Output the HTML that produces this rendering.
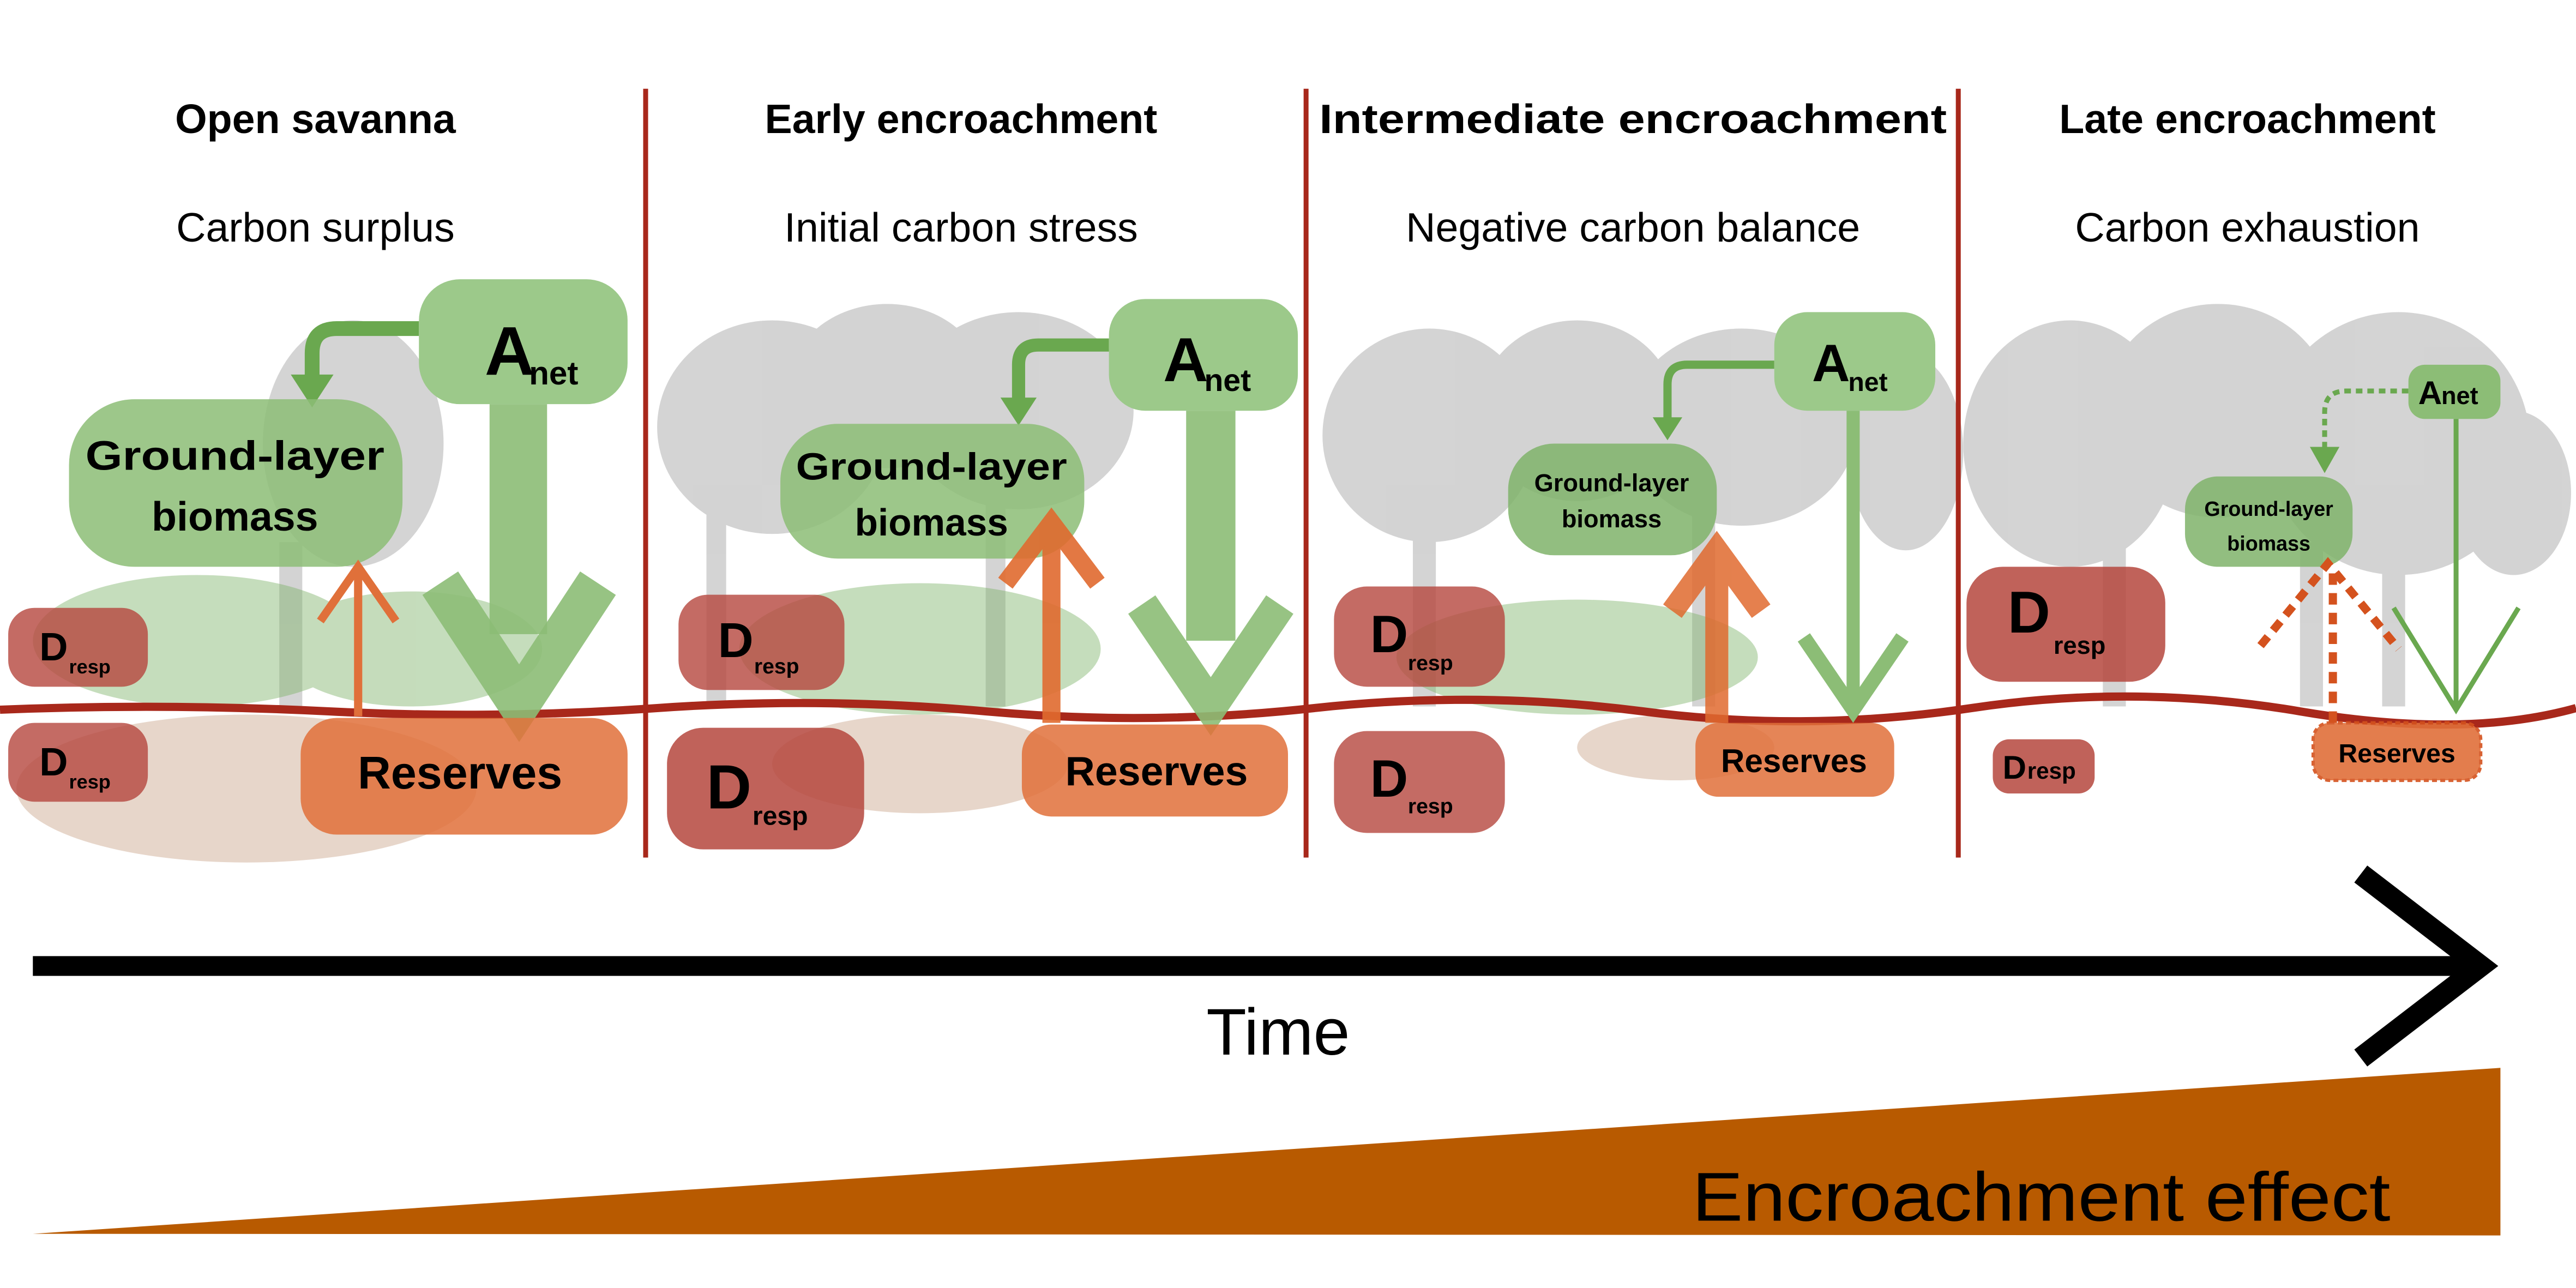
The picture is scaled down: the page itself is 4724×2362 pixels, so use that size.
<!DOCTYPE html>
<html><head><meta charset="utf-8"><style>
html,body{margin:0;padding:0;background:#fff;}
svg{display:block;}
text{font-family:"Liberation Sans",sans-serif;}
</style></head><body>
<svg width="4724" height="2362" viewBox="0 0 1568 784" preserveAspectRatio="none" xmlns="http://www.w3.org/2000/svg">
<rect width="1568" height="784" fill="#fff"/>
<!-- trees -->
<g fill="#bdbdbd" opacity="0.65">
  <ellipse cx="215" cy="270" rx="55" ry="75"/><rect x="170" y="330" width="14" height="100"/>
  <ellipse cx="470" cy="260" rx="70" ry="65"/><ellipse cx="620" cy="250" rx="70" ry="60"/><ellipse cx="540" cy="235" rx="60" ry="50"/>
  <rect x="430" y="300" width="12" height="130"/><rect x="600" y="300" width="12" height="130"/>
  <ellipse cx="870" cy="265" rx="65" ry="65"/><ellipse cx="960" cy="250" rx="60" ry="55"/><ellipse cx="1060" cy="260" rx="70" ry="60"/><ellipse cx="1160" cy="275" rx="35" ry="60"/>
  <rect x="860" y="300" width="14" height="130"/><rect x="1030" y="300" width="14" height="130"/>
  <ellipse cx="1260" cy="270" rx="65" ry="75"/><ellipse cx="1350" cy="250" rx="70" ry="65"/><ellipse cx="1460" cy="270" rx="80" ry="80"/><ellipse cx="1530" cy="300" rx="35" ry="50"/>
  <rect x="1280" y="330" width="14" height="100"/><rect x="1400" y="330" width="14" height="100"/><rect x="1450" y="330" width="14" height="100"/>
</g>
<!-- grass -->
<g fill="#7fb36a" opacity="0.45">
  <ellipse cx="120" cy="390" rx="100" ry="40"/><ellipse cx="250" cy="395" rx="80" ry="35"/>
  <ellipse cx="560" cy="395" rx="110" ry="40"/>
  <ellipse cx="960" cy="400" rx="110" ry="35"/>
</g>
<!-- roots -->
<g fill="#c9a48a" opacity="0.45">
  <ellipse cx="150" cy="480" rx="140" ry="45"/><ellipse cx="560" cy="465" rx="90" ry="30"/><ellipse cx="1020" cy="455" rx="60" ry="20"/>
</g>
<!-- dividers -->
<g stroke="#a8281b" stroke-width="3">
<line x1="393" y1="54" x2="393" y2="522"/><line x1="795" y1="54" x2="795" y2="522"/><line x1="1192" y1="54" x2="1192" y2="522"/>
</g>
<!-- ground -->
<path d="M0 432 Q100 428 200 433 T400 431 T600 433 T800 431 T1000 433 T1200 431 T1400 433 T1568 431" stroke="#a8281b" stroke-width="5" fill="none"/>
<!-- titles -->
<g font-weight="bold" font-size="25" text-anchor="middle" fill="#000">
<text x="192" y="81">Open savanna</text>
<text x="585" y="81">Early encroachment</text>
<text x="994" y="81" textLength="382" lengthAdjust="spacingAndGlyphs">Intermediate encroachment</text>
<text x="1368" y="81">Late encroachment</text>
</g>
<g font-size="25" text-anchor="middle" fill="#000">
<text x="192" y="147">Carbon surplus</text>
<text x="585" y="147">Initial carbon stress</text>
<text x="994" y="147">Negative carbon balance</text>
<text x="1368" y="147">Carbon exhaustion</text>
</g>
<!-- PANEL 1 -->
<path d="M255 200 H205 Q190 200 190 215 V235" stroke="#6aa84f" stroke-width="9" fill="none"/>
<polygon points="177,228 203,228 190,248" fill="#6aa84f"/>
<rect x="42" y="243" width="203" height="102" rx="40" fill="#8cbd76" opacity="0.85"/>
<text x="143" y="286" font-size="25" font-weight="bold" text-anchor="middle" textLength="182" lengthAdjust="spacingAndGlyphs">Ground-layer</text>
<text x="143" y="323" font-size="25" font-weight="bold" text-anchor="middle">biomass</text>
<rect x="255" y="170" width="127" height="76" rx="25" fill="#9cc98a"/>
<text x="295" y="228" font-size="42" font-weight="bold">A</text><text x="322" y="234" font-size="20" font-weight="bold">net</text>
<rect x="298" y="246" width="35" height="140" fill="#8cbd76" opacity="0.9"/>
<polyline points="268,355 316,428 364,355" stroke="#8cbd76" stroke-width="26" fill="none" opacity="0.9"/>
<rect x="5" y="370" width="85" height="48" rx="16" fill="#b5463d" opacity="0.8"/>
<rect x="5" y="440" width="85" height="48" rx="16" fill="#b5463d" opacity="0.8"/>
<text x="24" y="402" font-size="24" font-weight="bold">D</text><text x="42" y="410" font-size="12" font-weight="bold">resp</text>
<text x="24" y="472" font-size="24" font-weight="bold">D</text><text x="42" y="480" font-size="12" font-weight="bold">resp</text>
<rect x="183" y="437" width="199" height="71" rx="22" fill="#e0703a" opacity="0.85"/>
<text x="280" y="480" font-size="28" font-weight="bold" text-anchor="middle">Reserves</text>
<g stroke="#e0703a" stroke-width="5" fill="none"><line x1="218" y1="436" x2="218" y2="346"/><polyline points="195,378 218,345 241,378"/></g>
<!-- PANEL 2 -->
<path d="M675 210 H632 Q620 210 620 222 V245" stroke="#6aa84f" stroke-width="8" fill="none"/>
<polygon points="609,242 631,242 620,259" fill="#6aa84f"/>
<rect x="475" y="258" width="185" height="82" rx="35" fill="#8cbd76" opacity="0.85"/>
<text x="567" y="292" font-size="23" font-weight="bold" text-anchor="middle" textLength="165" lengthAdjust="spacingAndGlyphs">Ground-layer</text>
<text x="567" y="326" font-size="23" font-weight="bold" text-anchor="middle">biomass</text>
<rect x="675" y="182" width="115" height="68" rx="22" fill="#9cc98a"/>
<text x="708" y="232" font-size="38" font-weight="bold">A</text><text x="733" y="238" font-size="19" font-weight="bold">net</text>
<rect x="722" y="250" width="30" height="140" fill="#8cbd76" opacity="0.9"/>
<polyline points="695,368 737,430 779,368" stroke="#8cbd76" stroke-width="20" fill="none" opacity="0.9"/>
<rect x="413" y="362" width="101" height="58" rx="18" fill="#b5463d" opacity="0.8"/>
<text x="437" y="400" font-size="30" font-weight="bold">D</text><text x="459" y="410" font-size="13" font-weight="bold">resp</text>
<rect x="406" y="443" width="120" height="74" rx="22" fill="#b5463d" opacity="0.85"/>
<text x="430" y="492" font-size="38" font-weight="bold">D</text><text x="458" y="502" font-size="16" font-weight="bold">resp</text>
<rect x="622" y="441" width="162" height="56" rx="18" fill="#e0703a" opacity="0.85"/>
<text x="704" y="478" font-size="25" font-weight="bold" text-anchor="middle">Reserves</text>
<g stroke="#e06a2f" stroke-width="11" fill="none" opacity="0.9"><line x1="640" y1="440" x2="640" y2="318"/><polyline points="612,355 640,318 668,355"/></g>
<!-- PANEL 3 -->
<path d="M1080 222 H1027 Q1015 222 1015 234 V258" stroke="#6aa84f" stroke-width="5" fill="none"/>
<polygon points="1006,254 1024,254 1015,268" fill="#6aa84f"/>
<rect x="918" y="270" width="127" height="68" rx="28" fill="#7fb36a" opacity="0.85"/>
<text x="981" y="299" font-size="15" font-weight="bold" text-anchor="middle">Ground-layer</text>
<text x="981" y="321" font-size="15" font-weight="bold" text-anchor="middle">biomass</text>
<rect x="1080" y="190" width="98" height="60" rx="20" fill="#9cc98a"/>
<text x="1103" y="232" font-size="32" font-weight="bold">A</text><text x="1125" y="238" font-size="16" font-weight="bold">net</text>
<line x1="1128" y1="250" x2="1128" y2="432" stroke="#8cbd76" stroke-width="8"/>
<polyline points="1098,388 1128,432 1158,388" stroke="#8cbd76" stroke-width="9" fill="none"/>
<rect x="812" y="357" width="104" height="61" rx="20" fill="#b5463d" opacity="0.8"/>
<text x="834" y="397" font-size="32" font-weight="bold">D</text><text x="857" y="408" font-size="13" font-weight="bold">resp</text>
<rect x="812" y="445" width="104" height="62" rx="20" fill="#b5463d" opacity="0.8"/>
<text x="834" y="485" font-size="32" font-weight="bold">D</text><text x="857" y="495" font-size="13" font-weight="bold">resp</text>
<rect x="1032" y="440" width="121" height="45" rx="14" fill="#e0703a" opacity="0.85"/>
<text x="1092" y="470" font-size="20" font-weight="bold" text-anchor="middle">Reserves</text>
<g stroke="#e06a2f" stroke-width="14" fill="none" opacity="0.85"><line x1="1045" y1="440" x2="1045" y2="335"/><polyline points="1018,372 1045,335 1072,372"/></g>
<!-- PANEL 4 -->
<path d="M1466 238 H1428 Q1415 238 1415 251 V272" stroke="#6aa84f" stroke-width="3" stroke-dasharray="4,3" fill="none"/>
<polygon points="1406,272 1424,272 1415,288" fill="#6aa84f"/>
<rect x="1330" y="290" width="102" height="55" rx="20" fill="#7fb36a" opacity="0.85"/>
<text x="1381" y="314" font-size="12.5" font-weight="bold" text-anchor="middle">Ground-layer</text>
<text x="1381" y="335" font-size="12.5" font-weight="bold" text-anchor="middle">biomass</text>
<rect x="1466" y="222" width="56" height="33" rx="10" fill="#8cbd76"/>
<text x="1472" y="246" font-size="20" font-weight="bold">A</text><text x="1486" y="246" font-size="15" font-weight="bold">net</text>
<line x1="1495" y1="255" x2="1495" y2="432" stroke="#6aa84f" stroke-width="3"/>
<polyline points="1457,370 1495,432 1533,370" stroke="#6aa84f" stroke-width="3" fill="none"/>
<g stroke="#d4521e" stroke-width="5" stroke-dasharray="7,5" fill="none"><line x1="1420" y1="440" x2="1420" y2="348"/><polyline points="1376,393 1417,343 1460,395"/></g>
<rect x="1197" y="345" width="121" height="70" rx="22" fill="#b5463d" opacity="0.85"/>
<text x="1222" y="385" font-size="36" font-weight="bold">D</text><text x="1250" y="398" font-size="15" font-weight="bold">resp</text>
<rect x="1213" y="450" width="62" height="33" rx="10" fill="#b5463d" opacity="0.85"/>
<text x="1219" y="474" font-size="20" font-weight="bold">D</text><text x="1234" y="474" font-size="14" font-weight="bold">resp</text>
<rect x="1408" y="440" width="102" height="35" rx="10" fill="#e0703a" opacity="0.9" stroke="#d4521e" stroke-width="2" stroke-dasharray="3,2"/>
<text x="1459" y="464" font-size="16" font-weight="bold" text-anchor="middle">Reserves</text>
<!-- time arrow -->
<line x1="20" y1="588" x2="1505" y2="588" stroke="#000" stroke-width="12"/>
<polyline points="1437,532 1510,588 1437,644" stroke="#000" stroke-width="13" fill="none"/>
<text x="778" y="642" font-size="40" text-anchor="middle">Time</text>
<polygon points="20,751 1522,650 1522,752" fill="#b85a00"/>
<text x="1030" y="743" font-size="42" textLength="425" lengthAdjust="spacingAndGlyphs">Encroachment effect</text>
</svg>
</body></html>
